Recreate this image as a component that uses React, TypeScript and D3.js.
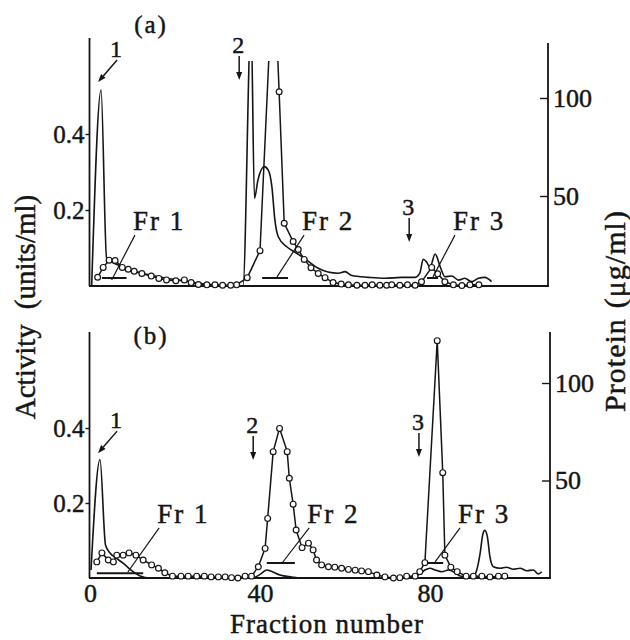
import React, { useEffect, useRef } from 'react';
import * as d3 from 'd3';

// ---- panel (a) ----
// activity (units/ml), open circles
const fracActA = [1.8, 3.1, 4.5, 5.9, 7.6, 9.0, 10.4, 12.2, 14.4, 16.2, 18.0, 20.2, 22.2, 23.8, 25.5, 27.5, 29.4, 31.2, 33.1, 34.5,
  37.0, 40.0, 43.2, 44.5, 45.7, 47.8, 49.0, 50.4, 52.0, 53.7, 55.3, 57.2, 59.1, 60.8, 62.8, 64.7, 66.4, 68.2, 69.8, 71.0,
  72.9, 74.7, 76.5, 78.0, 80.4, 81.8, 83.5, 85.5, 87.5, 89.4, 91.5];
const actA = [0.023, 0.049, 0.068, 0.067, 0.049, 0.044, 0.039, 0.033, 0.026, 0.020, 0.016, 0.014, 0.016, 0.009, 0.004, 0.003, 0.003, 0.002, 0.002, 0.003,
  0.022, 0.093, 0.87, 0.511, 0.165, 0.117, 0.096, 0.070, 0.048, 0.033, 0.022, 0.009, 0.005, 0.003, 0.002, 0.002, 0.003, 0.002, 0.002, 0.003,
  0.002, 0.003, 0.002, 0.011, 0.049, 0.032, 0.011, 0.003, 0.001, 0.003, 0.003];
// protein (ug/ml), plain line
const fracProtA = [0.4, 2.6, 3.9, 5.2, 7.1, 9.4, 12.9, 17.6, 22.4, 27.1, 31.8, 36.0, 37.9, 38.7, 39.5, 41.0, 42.0, 42.8, 43.5, 44.3,
  46.3, 48.6, 51.0, 53.7, 56.0, 58.4, 60.0, 61.6, 65.5, 69.4, 73.3, 76.5, 77.6, 78.4, 79.2, 80.0, 81.2, 82.4, 83.5, 85.1,
  86.7, 88.2, 89.8, 91.4, 92.9, 94.5];
const protA = [4.6, 104, 18.4, 16.3, 14.3, 12.2, 10.2, 8.2, 6.6, 5.1, 4.3, 4.1, 140, 48.8, 58, 65, 63, 54.7, 37.8, 29.2,
  24.1, 20.8, 17.3, 13.1, 11.2, 10.6, 11.4, 9.4, 8.5, 8.0, 8.5, 8.5, 10.6, 17.7, 16.3, 13.6, 20.4, 13.9, 8.8, 9.2,
  7.1, 8.0, 6.3, 8.0, 8.5, 6.3];

// ---- panel (b) ----
const fracActB = [1.6, 2.8, 4.3, 5.5, 6.3, 7.8, 9.2, 10.8, 12.5, 14.5, 16.1, 17.6, 19.4, 21.4, 23.1, 25.1, 26.9, 28.5, 30.2, 31.8,
  33.3, 34.8, 36.5, 38.0, 39.6, 41.2, 41.8, 43.1, 44.6, 46.4, 46.9, 47.8, 48.5, 49.9, 51.4, 52.5, 53.3, 54.5, 56.1, 57.6,
  59.2, 60.8, 62.4, 63.9, 65.5, 67.5, 69.4, 71.4, 72.9, 74.5, 76.5, 77.6, 78.8, 81.7, 83.0, 83.5, 84.9, 86.4, 88.5, 90.2,
  92.2, 94.1, 96.1, 97.6];
const actB = [0.043, 0.067, 0.048, 0.043, 0.061, 0.061, 0.067, 0.061, 0.048, 0.035, 0.026, 0.014, 0.005, 0.005, 0.005, 0.005, 0.005, 0.003, 0.003, 0.003,
  0.001, 0.0, 0.005, 0.005, 0.030, 0.079, 0.159, 0.337, 0.399, 0.337, 0.266, 0.197, 0.128, 0.081, 0.093, 0.075, 0.048, 0.035, 0.030, 0.029,
  0.026, 0.023, 0.021, 0.019, 0.017, 0.008, 0.003, 0.0, 0.001, 0.005, 0.005, 0.017, 0.041, 0.633, 0.281, 0.061, 0.029, 0.017, 0.005, 0.005,
  0.005, 0.003, 0.005, 0.005];
const fracProtB = [0.24, 2.35, 3.65, 4.7, 6.1, 8.0, 9.9, 11.8, 14.1, 38.1, 40.2, 41.6, 42.8, 44.7, 47.5, 49.4, 75.3, 77.2, 78.8, 80.0,
  81.2, 82.8, 84.3, 85.9, 87.1, 88.6, 90.2, 91.0, 91.8, 92.4, 92.9, 93.5, 94.1, 94.9, 96.5, 98.0, 99.6, 101.2, 102.8, 104.3,
  105.5, 106.3];
const protB = [4.1, 60.8, 16.9, 12.8, 10.3, 7.2, 3.6, 1.0, 0, 0, 2.1, 4.1, 3.3, 1.5, 0.5, 0, 0, 1.5, 4.1, 5.0,
  4.1, 3.2, 4.1, 2.7, 1.0, 0.7, 1.0, 4.1, 12.7, 22.1, 24.4, 21.2, 10.9, 5.8, 5.0, 5.5, 4.5, 5.0, 3.7, 4.1,
  2.1, 3.2];

// pooled fractions (bar from..to at an activity level), label anchor and pointer tip
const poolsA = [
  { name: 'Fr 1', from: 2.8, to: 8.6, level: 0.021, labelF: 10.1, labelV: 0.147, tipF: 5.1, tipV: 0.016 },
  { name: 'Fr 2', from: 40.5, to: 46.6, level: 0.021, labelF: 49.9, labelV: 0.147, tipF: 44.0, tipV: 0.024 },
  { name: 'Fr 3', from: 79.3, to: 81.9, level: 0.021, labelF: 85.4, labelV: 0.147, tipF: 80.7, tipV: 0.024 },
];
const poolsB = [
  { name: 'Fr 1', from: 1.6, to: 12.5, level: 0.013, labelF: 15.8, labelV: 0.147, tipF: 8.9, tipV: 0.016 },
  { name: 'Fr 2', from: 41.6, to: 48.2, level: 0.040, labelF: 51.1, labelV: 0.147, tipF: 45.2, tipV: 0.040 },
  { name: 'Fr 3', from: 79.3, to: 83.1, level: 0.040, labelF: 86.6, labelV: 0.147, tipF: 81.2, tipV: 0.043 },
];
// sample application arrows
const arrowsA = [
  { label: '1', f: 1.9, v: 0.537, diag: true },
  { label: '2', f: 35.1, v: 0.542, diag: false },
  { label: '3', f: 75.1, v: 0.116, diag: false },
];
const arrowsB = [
  { label: '1', f: 1.9, v: 0.333, diag: true },
  { label: '2', f: 38.4, v: 0.315, diag: false },
  { label: '3', f: 77.4, v: 0.323, diag: false },
];

const actTicks = [0.2, 0.4];
const protTicks = [50, 100];
const fracTicks = [0, 40, 80];

const INK = '#151515';
const FONT = '"Liberation Serif", "DejaVu Serif", serif';

// scanned print looks heavy: give text a thin outline
function ink(sel, size) {
  return sel.attr('font-family', FONT).attr('font-size', size).attr('fill', INK)
    .attr('stroke', INK).attr('stroke-width', 0.45);
}

function drawArrow(g, x1, y1, x2, y2) {
  const a = Math.atan2(y2 - y1, x2 - x1);
  const L = 8, w = 3;
  const bx = x2 - L * Math.cos(a), by = y2 - L * Math.sin(a);
  g.append('line').attr('x1', x1).attr('y1', y1).attr('x2', bx).attr('y2', by)
    .attr('stroke', INK).attr('stroke-width', 1.5);
  g.append('path')
    .attr('d', `M${x2},${y2}L${bx - w * Math.sin(a)},${by + w * Math.cos(a)}L${bx + w * Math.sin(a)},${by - w * Math.cos(a)}Z`)
    .attr('fill', INK);
}

export default function App() {
  const ref = useRef(null);

  useEffect(() => {
    const svg = d3.select(ref.current);
    svg.selectAll('*').remove();

    const x = d3.scaleLinear().domain([0, 108]).range([90, 549]);

    const panels = [
      { id: 'a', fa: fracActA, va: actA, fp: fracProtA, vp: protA, pools: poolsA, arrows: arrowsA,
        base: 286, act04: 134, prot0: 294, prot100: 98, leftTop: 38, rightTop: 43, clipTop: 61, rightX: 548,
        title: '(a)', titleY: 33, xLabels: false },
      { id: 'b', fa: fracActB, va: actB, fp: fracProtB, vp: protB, pools: poolsB, arrows: arrowsB,
        base: 578, act04: 428, prot0: 578, prot100: 383, leftTop: 332, rightTop: 332, clipTop: 320, rightX: 550,
        title: '(b)', titleY: 344, xLabels: true },
    ];

    panels.forEach(p => {
      const yAct = d3.scaleLinear().domain([0, 0.4]).range([p.base, p.act04]);
      const yProt = d3.scaleLinear().domain([0, 100]).range([p.prot0, p.prot100]);
      const g = svg.append('g');

      g.append('clipPath').attr('id', 'clip-' + p.id)
        .append('rect').attr('x', 89).attr('y', p.clipTop).attr('width', p.rightX - 89).attr('height', p.base - p.clipTop + 4);

      // frame: left, right, bottom lines
      g.append('line').attr('x1', 89.5).attr('x2', 89.5).attr('y1', p.leftTop).attr('y2', p.base)
        .attr('stroke', INK).attr('stroke-width', 1.8);
      g.append('line').attr('x1', p.rightX).attr('x2', p.rightX).attr('y1', p.rightTop).attr('y2', p.base)
        .attr('stroke', INK).attr('stroke-width', 1.8);
      g.append('line').attr('x1', 89).attr('x2', p.rightX + 0.9).attr('y1', p.base).attr('y2', p.base)
        .attr('stroke', INK).attr('stroke-width', 1.8);

      // left axis (activity)
      const la = g.append('g').attr('transform', 'translate(89.5,0)')
        .call(d3.axisLeft(yAct).tickValues(actTicks).tickSize(4).tickPadding(1).tickFormat(d3.format('.1f')));
      la.select('.domain').remove();
      la.selectAll('line').attr('stroke', INK).attr('stroke-width', 1.4);
      ink(la.selectAll('text'), 25);

      // right axis (protein), ticks inward
      const ra = g.append('g').attr('transform', `translate(${p.rightX},0)`)
        .call(d3.axisRight(yProt).tickValues(protTicks).tickSizeInner(-8).tickSizeOuter(0).tickPadding(5));
      ra.select('.domain').remove();
      ra.selectAll('line').attr('stroke', INK).attr('stroke-width', 1.4);
      ink(ra.selectAll('text'), 26);

      if (p.xLabels) {
        const ba = g.append('g').attr('transform', `translate(0,${p.base})`)
          .call(d3.axisBottom(x).tickValues(fracTicks).tickSize(0).tickPadding(6).tickFormat(d3.format('d')));
        ba.select('.domain').remove();
        ink(ba.selectAll('text'), 26);
      }

      const plot = g.append('g').attr('clip-path', `url(#clip-${p.id})`);

      const protLine = d3.line().x(d => x(d[0])).y(d => yProt(d[1])).curve(d3.curveMonotoneX);
      plot.append('path').datum(d3.zip(p.fp, p.vp)).attr('d', protLine)
        .attr('fill', 'none').attr('stroke', INK).attr('stroke-width', 1.6);

      const actLine = d3.line().x(d => x(d[0])).y(d => yAct(d[1]));
      const actPts = d3.zip(p.fa, p.va);
      plot.append('path').datum(actPts).attr('d', actLine)
        .attr('fill', 'none').attr('stroke', INK).attr('stroke-width', 1.5);
      plot.selectAll('circle').data(actPts).join('circle')
        .attr('cx', d => x(d[0])).attr('cy', d => yAct(d[1])).attr('r', 2.9)
        .attr('fill', '#fff').attr('stroke', INK).attr('stroke-width', 1.2);

      // pooled fractions
      p.pools.forEach(fr => {
        g.append('line').attr('x1', x(fr.from)).attr('x2', x(fr.to))
          .attr('y1', yAct(fr.level)).attr('y2', yAct(fr.level))
          .attr('stroke', INK).attr('stroke-width', 2);
        const lx = x(fr.labelF), ly = yAct(fr.labelV);
        g.append('line').attr('x1', lx + 2).attr('y1', ly + 5).attr('x2', x(fr.tipF)).attr('y2', yAct(fr.tipV))
          .attr('stroke', INK).attr('stroke-width', 1.2);
        ink(g.append('text').attr('x', lx).attr('y', ly).text(fr.name), 27).attr('letter-spacing', 2);
      });

      // arrows
      p.arrows.forEach(ar => {
        const tx = x(ar.f), ty = yAct(ar.v);
        const sx = ar.diag ? tx + 19 : tx;
        const sy = ar.diag ? ty - 22 : ty - 24;
        drawArrow(g, sx, sy, tx, ty);
        ink(g.append('text').attr('x', sx - 1).attr('y', sy - 3).text(ar.label), 24)
          .attr('text-anchor', 'middle');
      });

      ink(g.append('text').attr('x', 151).attr('y', p.titleY).text(p.title), 25)
        .attr('text-anchor', 'middle').attr('letter-spacing', 2);
    });

    // axis titles
    const lt = ink(svg.append('text').attr('transform', 'translate(35,307) rotate(-90)'), 29)
      .attr('text-anchor', 'middle');
    lt.append('tspan').text('Activity');
    lt.append('tspan').attr('dx', 15).text('(units/ml)');

    const rt = ink(svg.append('text').attr('transform', 'translate(625,311) rotate(-90)'), 30)
      .attr('text-anchor', 'middle').attr('letter-spacing', 1);
    rt.append('tspan').text('Protein');
    rt.append('tspan').attr('dx', 10).text('(μg/ml)');

    ink(svg.append('text').attr('x', 327).attr('y', 633).text('Fraction number'), 27)
      .attr('text-anchor', 'middle').attr('letter-spacing', 1);
  }, []);

  return (
    <svg ref={ref} width={630} height={640}
      style={{ position: 'absolute', left: 0, top: 0, background: '#fff' }} />
  );
}
